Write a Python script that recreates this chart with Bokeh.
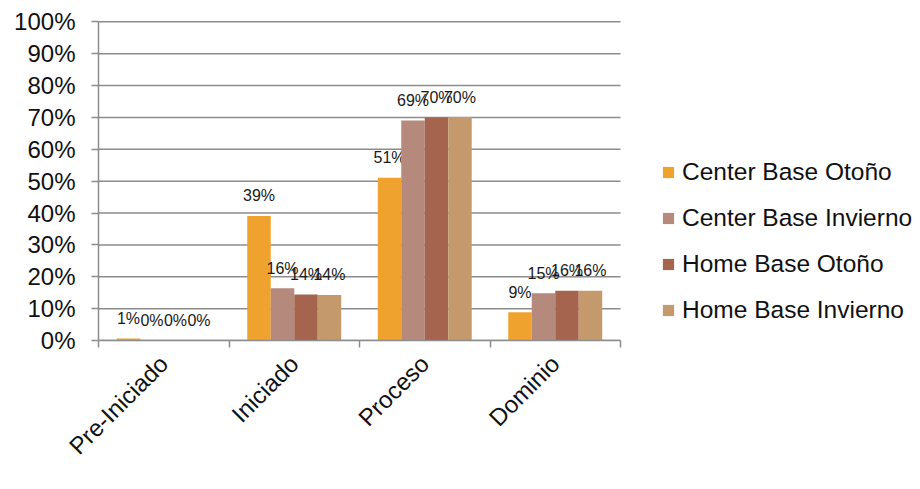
import math
from bokeh.plotting import figure
from bokeh.models import Range1d, FixedTicker, NumeralTickFormatter, Legend, LegendItem
from bokeh.core.properties import value
from bokeh.embed import file_html
from bokeh.resources import INLINE

categories = ["Pre-Iniciado", "Iniciado", "Proceso", "Dominio"]
series_names = ["Center Base Otoño", "Center Base Invierno", "Home Base Otoño", "Home Base Invierno"]
center_otono = [0.006, 0.391, 0.511, 0.089]
center_invierno = [0.0, 0.164, 0.690, 0.148]
home_otono = [0.0, 0.144, 0.700, 0.156]
home_invierno = [0.0, 0.143, 0.701, 0.156]
y_ticks = [0.0, 0.1, 0.2, 0.3, 0.4, 0.5, 0.6, 0.7, 0.8, 0.9, 1.0]

colors = ["#F0A22E", "#B58A7D", "#A5644E", "#C49A6C"]
series_values = [center_otono, center_invierno, home_otono, home_invierno]

GRID = "#8C8C8C"
FONT = "Liberation Sans"
LBL_FONT = "Liberation Sans"

W, H = 916, 472
LEFT, TOP, BOTTOM = 98, 21, 131
CAT_PX = 130.5  # pixel width of one category band
n = len(categories)
frame_w = W - LEFT
x_end = frame_w / CAT_PX  # extend frame to the right so the legend can sit inside it

p = figure(width=W, height=H, output_backend="svg", toolbar_location=None,
           x_range=Range1d(0, x_end), y_range=Range1d(0, 1.004),
           min_border_left=LEFT, min_border_top=TOP - 1, min_border_bottom=BOTTOM, min_border_right=0)
p.outline_line_color = None
p.background_fill_color = "white"
p.border_fill_color = "white"

# horizontal gridlines only across the category area
p.segment(x0=[0] * len(y_ticks), x1=[n] * len(y_ticks), y0=y_ticks, y1=y_ticks,
          line_color=GRID, line_width=1.5, level="underlay")

bar_w = 0.18
offsets = [-1.5 * bar_w, -0.5 * bar_w, 0.5 * bar_w, 1.5 * bar_w]
items = []
for k, (name, vals, col) in enumerate(zip(series_names, series_values, colors)):
    xs = [i + 0.5 + offsets[k] for i in range(n)]
    r = p.vbar(x=xs, top=vals, width=bar_w, fill_color=col, line_color=None)
    items.append(LegendItem(label=name, renderers=[r]))
    labels = ["%d%%" % int(math.floor(v * 100 + 0.5)) for v in vals]
    p.text(x=xs, y=vals, text=labels, text_align="center", text_baseline="alphabetic",
           y_offset=-20, text_font=value(LBL_FONT), text_font_size="16px", text_color="#1a1a1a")

# axes
p.xaxis.bounds = (0, n)
p.xaxis.ticker = FixedTicker(ticks=[i + 0.5 for i in range(n)], minor_ticks=list(range(n + 1)))
p.xaxis.major_label_overrides = {i + 0.5: c for i, c in enumerate(categories)}
p.xaxis.major_label_orientation = math.pi / 4
p.xaxis.major_tick_out = 0
p.xaxis.major_tick_in = 0
p.xaxis.minor_tick_out = 7
p.xaxis.minor_tick_in = 0
p.xaxis.minor_tick_line_color = GRID
p.xaxis.minor_tick_line_width = 1.5
p.xaxis.axis_line_color = GRID
p.xaxis.axis_line_width = 1.5
p.xaxis.major_label_text_font = FONT
p.xaxis.major_label_text_font_size = "24px"
p.xaxis.major_label_text_color = "#111111"
p.xaxis.major_label_standoff = 12

p.yaxis.bounds = (0, 1)
p.yaxis.ticker = FixedTicker(ticks=y_ticks)
p.yaxis.formatter = NumeralTickFormatter(format="0%")
p.yaxis.major_tick_out = 7
p.yaxis.major_tick_in = 0
p.yaxis.major_tick_line_color = GRID
p.yaxis.major_tick_line_width = 1.5
p.yaxis.minor_tick_line_color = None
p.yaxis.axis_line_color = GRID
p.yaxis.axis_line_width = 1.5
p.yaxis.major_label_text_font = FONT
p.yaxis.major_label_text_font_size = "24px"
p.yaxis.major_label_text_color = "#111111"
p.yaxis.major_label_standoff = 16

p.xgrid.visible = False
p.ygrid.visible = False

legend = Legend(items=items, location=(563, 15), margin=0, padding=0,
                border_line_alpha=0, background_fill_alpha=0,
                glyph_width=14, glyph_height=14, label_standoff=7,
                label_height=30, spacing=16,
                label_text_font=FONT, label_text_font_size="24.5px", label_text_color="#111111")
p.add_layout(legend, "center")

open("out.html", "w").write(file_html(p, INLINE))
